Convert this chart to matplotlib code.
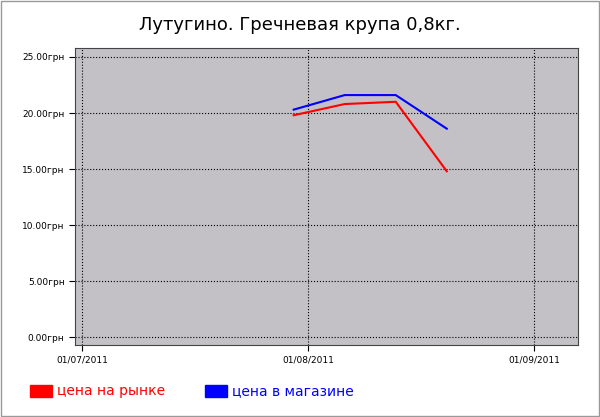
import matplotlib
matplotlib.use("Agg")
import matplotlib.pyplot as plt
import matplotlib.dates as mdates
from matplotlib.patches import Rectangle
import datetime as dt

dates = [dt.date(2011, 7, 30), dt.date(2011, 8, 6), dt.date(2011, 8, 13), dt.date(2011, 8, 20)]
market = [19.8, 20.8, 21.0, 14.8]
shop = [20.3, 21.6, 21.6, 18.6]
title = "Лутугино. Гречневая крупа 0,8кг."

fig = plt.figure(figsize=(6.0, 4.17), dpi=100)
fig.patch.set_facecolor("white")
ax = fig.add_axes([75 / 600, 1 - 345 / 417, 503 / 600, 297 / 417])
ax.set_facecolor("#c3c1c6")

ax.plot(dates, market, color="#ff0000", lw=1.5)
ax.plot(dates, shop, color="#0000ff", lw=1.5)

ax.set_ylim(-0.7, 25.8)
ax.set_xlim(dt.date(2011, 6, 30), dt.date(2011, 9, 7))
ax.set_yticks([0, 5, 10, 15, 20, 25])
ax.set_yticklabels(["%.2fгрн" % v for v in [0, 5, 10, 15, 20, 25]], fontsize=6.5)
ax.set_xticks([dt.date(2011, 7, 1), dt.date(2011, 8, 1), dt.date(2011, 9, 1)])
ax.xaxis.set_major_formatter(mdates.DateFormatter("%d/%m/%Y"))
ax.tick_params(axis="x", labelsize=6.5, length=4, direction="out")
ax.tick_params(axis="y", length=4, direction="out")
ax.grid(True, color="black", linestyle=":", lw=0.8)
for s in ax.spines.values():
    s.set_color("#444444")

fig.text(0.5, 1 - 25 / 417, title, ha="center", va="center", fontsize=13)

# legend at bottom
fig.patches.append(Rectangle((30 / 600, 1 - 397 / 417), 22 / 600, 12 / 417,
                             transform=fig.transFigure, color="#ff0000"))
fig.text(57 / 600, 1 - 391 / 417, "цена на рынке", color="#ff0000", fontsize=10, va="center")
fig.patches.append(Rectangle((205 / 600, 1 - 397 / 417), 22 / 600, 12 / 417,
                             transform=fig.transFigure, color="#0000ff"))
fig.text(232 / 600, 1 - 391 / 417, "цена в магазине", color="#0000ff", fontsize=10, va="center")

fig.patches.append(Rectangle((0.002, 0.002), 0.996, 0.996, transform=fig.transFigure,
                             fill=False, edgecolor="#999999", lw=1))

fig.savefig("out.png", dpi=100)
